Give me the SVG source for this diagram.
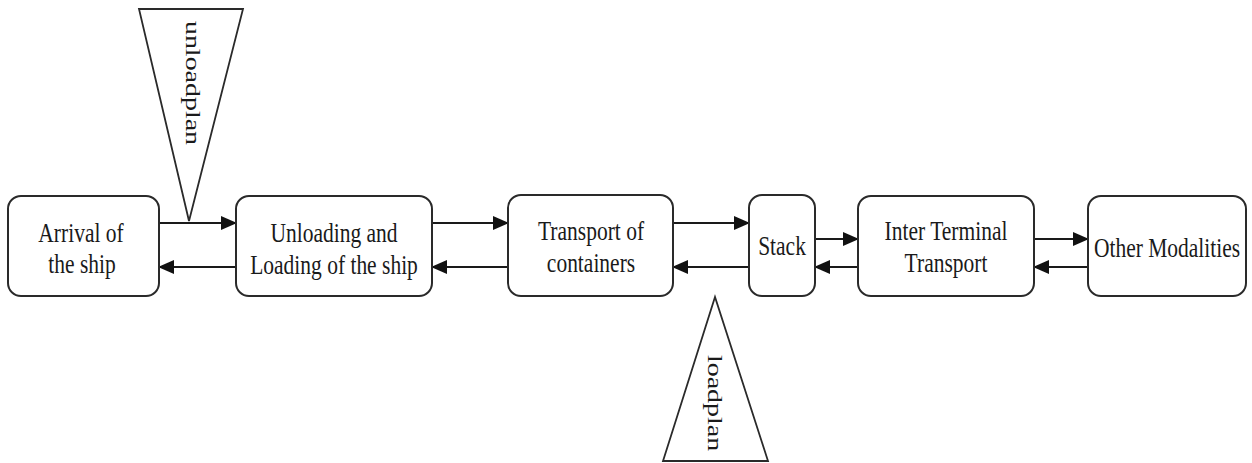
<svg xmlns="http://www.w3.org/2000/svg" width="1252" height="463" viewBox="0 0 1252 463">
<style>
.box{fill:#fff;stroke:#2a2a2a;stroke-width:2}
.tri{fill:#fff;stroke:#2a2a2a;stroke-width:1.8}
.t{font-family:"Liberation Serif","Times New Roman",serif;font-size:21.5px;fill:#1a1a1a;text-anchor:middle}
.c{stroke:#1a1a1a;stroke-width:2.2;fill:none;marker-end:url(#ah)}
</style>
<defs>
<marker id="ah" markerWidth="16" markerHeight="14" refX="15" refY="7" orient="auto" markerUnits="userSpaceOnUse">
<path d="M0,0 L16,7 L0,14 Z" fill="#111"/>
</marker>
</defs>
<rect width="1252" height="463" fill="#fff"/>
<g id="connectors">
<line class="c" x1="159" y1="223" x2="236" y2="223"/>
<line class="c" x1="236" y1="267" x2="159" y2="267"/>
<line class="c" x1="432" y1="223" x2="508" y2="223"/>
<line class="c" x1="508" y1="267" x2="432" y2="267"/>
<line class="c" x1="673" y1="223" x2="749" y2="223"/>
<line class="c" x1="749" y1="267" x2="673" y2="267"/>
<line class="c" x1="815" y1="239" x2="858" y2="239"/>
<line class="c" x1="858" y1="267" x2="815" y2="267"/>
<line class="c" x1="1034" y1="239" x2="1088" y2="239"/>
<line class="c" x1="1088" y1="267" x2="1034" y2="267"/>
</g>
<g id="unloadplan">
<polygon class="tri" points="139,9 243,9 189,221"/>
<text class="t" transform="translate(186,83) scale(1,1.3) rotate(90)" x="0" y="0">unloadplan</text>
</g>
<g id="loadplan">
<polygon class="tri" points="715,297 663,461 768,461"/>
<text class="t" transform="translate(708,403) scale(1,1.3) rotate(90)" x="0" y="0">loadplan</text>
</g>
<g id="arrival">
<rect class="box" x="8" y="196" width="151" height="100" rx="13"/>
<text class="t" transform="translate(81,242) scale(1,1.27)">Arrival of</text>
<text class="t" transform="translate(82,273) scale(1,1.27)">the ship</text>
</g>
<g id="unloading">
<rect class="box" x="236" y="196" width="196" height="100" rx="13"/>
<text class="t" transform="translate(334,242) scale(1,1.27)">Unloading and</text>
<text class="t" transform="translate(334,274) scale(1,1.27)">Loading of the ship</text>
</g>
<g id="transport">
<rect class="box" x="508" y="195" width="165" height="101" rx="13"/>
<text class="t" transform="translate(591,240) scale(1,1.27)">Transport of</text>
<text class="t" transform="translate(591,272) scale(1,1.27)">containers</text>
</g>
<g id="stack">
<rect class="box" x="749" y="195" width="66" height="101" rx="13"/>
<text class="t" transform="translate(782,255) scale(1,1.27)">Stack</text>
</g>
<g id="interterminal">
<rect class="box" x="858" y="196" width="176" height="100" rx="13"/>
<text class="t" transform="translate(946,240) scale(1,1.27)">Inter Terminal</text>
<text class="t" transform="translate(946,272) scale(1,1.27)">Transport</text>
</g>
<g id="othermodalities">
<rect class="box" x="1088" y="196" width="158" height="100" rx="13"/>
<text class="t" transform="translate(1167,257) scale(1,1.27)">Other Modalities</text>
</g>
</svg>
